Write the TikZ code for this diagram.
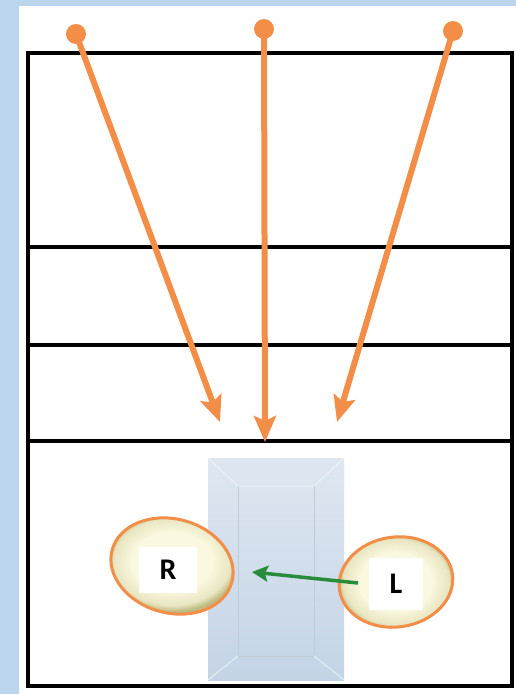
\documentclass[tikz,border=0pt]{standalone}
\usepackage{fontspec}
\setmainfont{Carlito}
\usetikzlibrary{calc}
\usetikzlibrary{arrows,arrows.meta}
\usetikzlibrary{shapes.geometric}
\definecolor{bgblue}{RGB}{188,214,238}
\definecolor{ray}{RGB}{242,142,72}
\definecolor{pillar}{RGB}{196,212,230}
\definecolor{arrgreen}{RGB}{40,140,60}
\definecolor{cellrim}{RGB}{190,186,128}
\definecolor{cellcore}{RGB}{250,248,222}
\pgfdeclareradialshading{cellshade}{\pgfpoint{0bp}{0bp}}{color(0bp)=(cellcore); color(15bp)=(cellcore); color(22bp)=(cellcore!70!cellrim); color(25bp)=(cellrim); color(50bp)=(cellrim)}
\tikzset{
 raydot/.style={circle, fill=ray, inner sep=0, minimum size=20},
 cell/.style={ellipse, draw=ray, line width=3, minimum width=124, minimum height=94, shading=cellshade},
 tag/.style={fill=white, inner sep=0, minimum width=58, minimum height=46, font=\bfseries\fontsize{30}{30}\selectfont}
}
\begin{document}
\begin{tikzpicture} [x=1pt, y=-1pt]
\fill[bgblue] (0,0) rectangle (516,694);
\fill[white] (19,6) rectangle (516,694);
\useasboundingbox (0,0) rectangle (516,694);
\coordinate (O) at (28,53);
\draw[black, line width=4.5] (O) rectangle (512,686);
\foreach \y in {247,345,441} {
 \draw[black, line width=4.5] (28,\y) --++(484,0);
}
\shade[top color=pillar!55, bottom color=pillar] (208,458) rectangle (344,680);
\draw[white!70!pillar, line width=1] (208,458) -- (238,486) -- (314,486) -- (344,458);
\draw[pillar!85!black!70, line width=0.8] (238,486) -- (238,656) -- (314,656) -- (314,486);
\draw[white!60!pillar, line width=1] (208,680) -- (238,656) (314,656) -- (344,680);
\node[cell, rotate=-15] (cR) at (172,566) {};
\node[cell, rotate=8, minimum width=114, minimum height=90] (cL) at (396,582) {};
\node[tag] (R) at (168,570) {R};
\node[tag, minimum width=54, minimum height=52] (L) at (396,584) {L};
\coordinate (gS) at (358,583);
\coordinate (gE) at (252,572);
\draw[arrgreen, line width=3.5, -{Stealth[length=16, width=16, inset=3]}] (gS) -- (gE);
\foreach \i/\sx/\sy/\ex/\ey in {1/76/34/220/422, 2/264/29/265/442, 3/453/31/337/422} {
 \node[raydot] (s\i) at (\sx,\sy) {};
 \coordinate (e\i) at (\ex,\ey);
 \draw[ray, line width=6, -{Stealth[length=26, width=22, inset=5]}] (s\i.center) -- (e\i);
}
\end{tikzpicture}
\end{document}
